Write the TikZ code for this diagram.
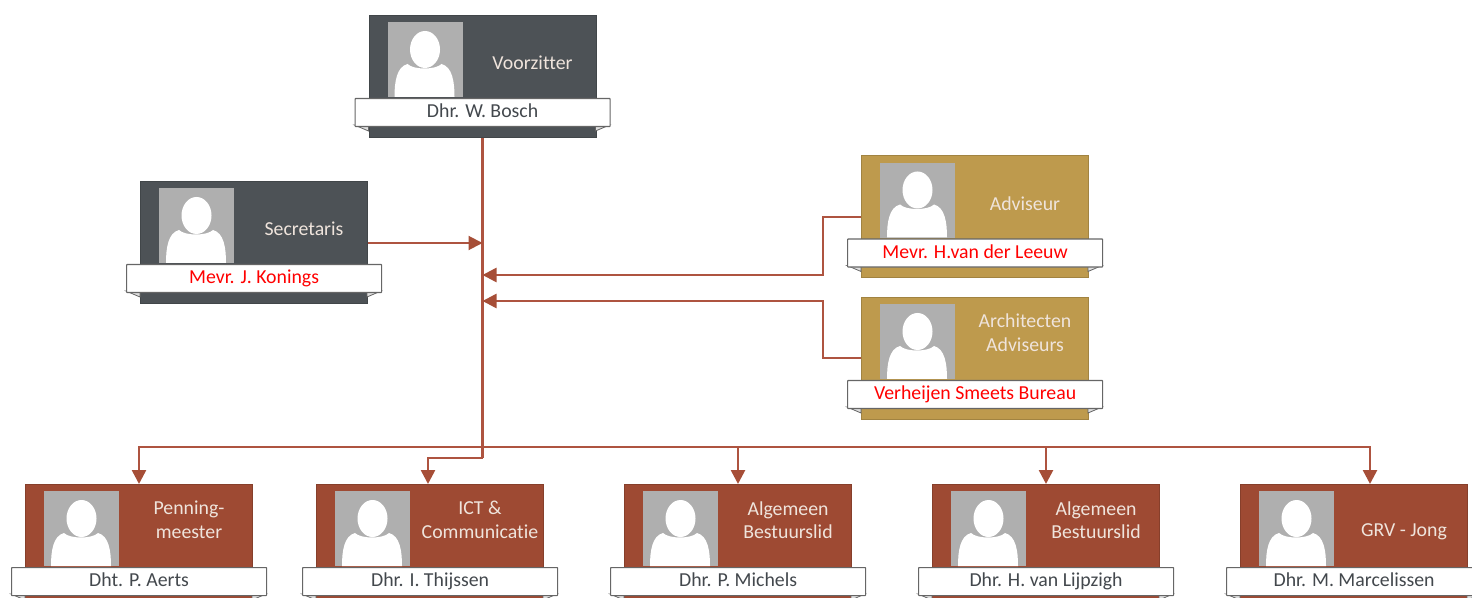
\documentclass[tikz,border=0pt]{standalone}
\usepackage{fontspec}
\setmainfont[Ligatures=CommonOff]{Carlito}
\usetikzlibrary{arrows.meta,calc}

\definecolor{slatecard}{HTML}{4D5256}
\definecolor{rustcard}{HTML}{9E4A33}
\definecolor{goldcard}{HTML}{BE9A4D}
\definecolor{linkred}{HTML}{AE5440}
\definecolor{tipred}{HTML}{A64E37}
\definecolor{photogray}{HTML}{AFAFAF}
\definecolor{roletext}{HTML}{EFE4DC}
\definecolor{nametext}{HTML}{43484D}

\tikzset{
  cardbox/.style={draw=#1!85!black, fill=#1, line width=0.5pt, minimum width=113.5pt, minimum height=61pt, inner sep=0pt, anchor=north west},
  photo/.style={fill=photogray, minimum width=37.5pt, minimum height=37.5pt, inner sep=0pt, anchor=north west},
  rolelabel/.style={text=roletext, font=\fontsize{9.9}{11.8}\selectfont, align=center},
  banner/.style={draw=gray!80!black, fill=white, line width=0.6pt, rounded corners=0.3pt, minimum width=127.5pt, minimum height=14pt, inner sep=0pt, text height=7pt, text depth=2pt, anchor=north west, font=\fontsize{9.9}{11}\selectfont},
  fold/.style={draw=gray!80!black, fill=gray!25, line width=0.4pt},
  link/.style={draw=linkred, line width=1.3pt},
  linkarrow/.style={link, -{Triangle[length=7pt,width=7pt,color=tipred]}},
}

% card: name, left, top, colour, role, role height, person, colour of person
\newcommand{\orgcard}[8]{
  \node[cardbox=#4] (#1) at (#2,#3) {};
  \node[photo] (#1photo) at ($(#1.north west)+(19,7)$) {};
  \begin{scope}[shift={(#1photo.north west)}]
    \fill[white] (7,75) .. controls (7,60) and (9,45) .. (20,42) .. controls (26,48) and (48,48) .. (54,42) .. controls (65,45) and (67,60) .. (67,75) -- cycle;
    \fill[white] (37.5,27.5) ellipse (15 and 18.5);
  \end{scope}
  \node[rolelabel] (#1role) at ($(#1.north west)+(164,#6)$) {#5};
  \draw[fold] ($(#1.north west)+(-14,110)$) -- ($(#1.north west)+(0,116)$) -- ($(#1.north west)+(0,110)$) -- cycle;
  \draw[fold] ($(#1.north west)+(241,110)$) -- ($(#1.north west)+(227,116)$) -- ($(#1.north west)+(227,110)$) -- cycle;
  \node[banner, text=#8] (#1name) at ($(#1.north west)+(-14,83)$) {#7};
}

\begin{document}
\begin{tikzpicture}[x=0.5pt,y=-0.5pt]
  \useasboundingbox (0,0) rectangle (1472,598);
  \clip (0,0) rectangle (1472,598);

  % Cards
  \orgcard{voorzitter}{368.5}{15}{slatecard}{Voorzitter}{48}{Dhr. W. Bosch}{nametext}
  \orgcard{secretaris}{140}{181}{slatecard}{Secretaris}{48}{Mevr. J. Konings}{red}
  \orgcard{adviseur}{861}{155.5}{goldcard}{Adviseur}{48}{Mevr. H.van der Leeuw}{red}
  \orgcard{architecten}{861}{297}{goldcard}{Architecten\\Adviseurs}{36}{Verheijen Smeets Bureau}{red}
  \orgcard{penning}{25}{484}{rustcard}{Penning-\\meester}{36}{Dht. P. Aerts}{nametext}
  \orgcard{ict}{316}{484}{rustcard}{ICT \&\\Communicatie}{36}{Dhr. I. Thijssen}{nametext}
  \orgcard{lidA}{624}{484}{rustcard}{Algemeen\\Bestuurslid}{36}{Dhr. P. Michels}{nametext}
  \orgcard{lidB}{932}{484}{rustcard}{Algemeen\\Bestuurslid}{36}{Dhr. H. van Lijpzigh}{nametext}
  \orgcard{jong}{1240}{484}{rustcard}{GRV - Jong}{48}{Dhr. M. Marcelissen}{nametext}

  % Junctions on the trunk
  \coordinate (hubSec) at (voorzitter.south |- 0,243);
  \coordinate (hubAdv) at (voorzitter.south |- 0,275);
  \coordinate (hubArc) at (voorzitter.south |- 0,301);
  \coordinate (bus) at (voorzitter.south |- 0,447);
  \coordinate (busIct) at (voorzitter.south |- 0,458);
  \coordinate (jongTop) at ($(jong.north)+(16,0)$);

  % Trunk and bus
  \draw[link] (voorzitter.south) -- (busIct);
  \foreach \target in {penning,lidA,lidB}
    \draw[linkarrow] (bus) -| (\target.north);
  \draw[linkarrow] (bus) -| (jongTop);
  \draw[linkarrow] (busIct) -| ($(ict.north)+(-2,0)$);

  % Side arrows
  \draw[linkarrow, line width=1pt] (secretaris.east |- hubSec) -- (hubSec);
  \coordinate (advTurn) at (823,217);
  \coordinate (arcTurn) at (823,358);
  \draw[linkarrow] (adviseur.west |- advTurn) -- (advTurn) |- (hubAdv);
  \draw[linkarrow] (architecten.west |- arcTurn) -- (arcTurn) |- (hubArc);
\end{tikzpicture}
\end{document}
